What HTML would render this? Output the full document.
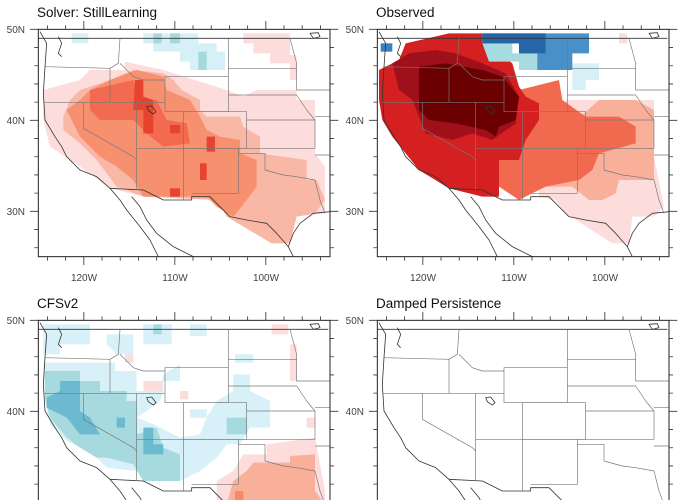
<!DOCTYPE html>
<html><head><meta charset="utf-8"><style>
html,body{margin:0;padding:0;background:#fff;width:680px;height:500px;overflow:hidden;}
svg{display:block;}
text{font-family:"Liberation Sans",sans-serif;}
.lab{font-size:10px;fill:#444;}
.ttl{font-size:13.5px;fill:#111;}
</style></head><body>
<svg width="680" height="500" viewBox="0 0 680 500" xmlns="http://www.w3.org/2000/svg">
<defs>
<clipPath id="fc"><rect x="115" y="88" width="875" height="682"/></clipPath>
<g id="map" fill="none" stroke-linejoin="round">
 <g stroke="#333" stroke-width="2.4">
  <path d="M115,115 L985,115"/>
  <path d="M120,95 L140,130 L135,200 L130,280 L135,360 L165,410 L185,440 L200,470 L240,510 L290,530 L330,565 L360,600 L380,630 L420,680 L450,720 L475,770"/>
  <path d="M395,590 L420,620 L440,660 L470,700 L520,740 L580,770"/>
  <path d="M330,565 L430,570 L490,600 L575,600 L575,590 L630,590 L660,620 L690,650 L740,660 L800,670 L830,700 L865,740 L880,770"/>
  <path d="M865,740 L880,700 L900,670 L940,640 L990,635"/>
  <path d="M175,110 L185,130 L175,160 L185,170"/>
  <path d="M930,100 L955,98 L960,110 L940,115 Z"/>
  <path d="M440,320 L455,318 L468,335 L460,342 L445,332 Z"/>
 </g>
 <g stroke="#777" stroke-width="2">
  <path d="M135,200 L330,205 L355,190 L360,115"/>
  <path d="M360,190 L400,230 L430,240 L495,240"/>
  <path d="M330,205 L330,307"/>
  <path d="M130,307 L495,307"/>
  <path d="M250,307 L250,385 L400,470 L410,480"/>
  <path d="M410,307 L410,570"/>
  <path d="M495,230 L685,230 L685,335 L495,335 Z"/>
  <path d="M550,335 L740,335 L740,445 L550,445 Z"/>
  <path d="M410,445 L945,445"/>
  <path d="M550,445 L550,600"/>
  <path d="M715,445 L715,580 L575,580"/>
  <path d="M715,460 L795,460 L795,510 L850,525 L890,530 L945,540"/>
  <path d="M685,115 L685,230"/>
  <path d="M685,205 L890,205"/>
  <path d="M685,285 L890,285 L920,330 L945,360 L945,445"/>
  <path d="M740,360 L945,360"/>
  <path d="M870,115 L890,190 L890,270 L990,270"/>
  <path d="M945,350 L990,350"/>
  <path d="M945,465 L990,465"/>
  <path d="M945,540 L960,600 L975,640"/>
 </g>
</g>
<g id="frame">
 <rect x="115" y="88" width="875" height="682" fill="none" stroke="#222" stroke-width="3"/>
 <path stroke="#333" stroke-width="2.5" fill="none" d="M251.5,88v-25M524.5,88v-25M797.5,88v-25M251.5,770v25M524.5,770v25M797.5,770v25M115,88h-25M115,361h-25M115,634h-25M990,88h25M990,361h25M990,634h25
 M142.3,88v-12M196.9,88v-12M306.1,88v-12M360.7,88v-12M415.3,88v-12M469.9,88v-12M579.1,88v-12M633.7,88v-12M688.3,88v-12M742.9,88v-12M852.1,88v-12M906.7,88v-12M961.3,88v-12
 M142.3,770v12M196.9,770v12M306.1,770v12M360.7,770v12M415.3,770v12M469.9,770v12M579.1,770v12M633.7,770v12M688.3,770v12M742.9,770v12M852.1,770v12M906.7,770v12M961.3,770v12
 M115,142.6h-12M115,197.2h-12M115,251.8h-12M115,306.4h-12M115,415.6h-12M115,470.2h-12M115,524.8h-12M115,579.4h-12M115,688.6h-12M115,743.2h-12
 M990,142.6h12M990,197.2h12M990,251.8h12M990,306.4h12M990,415.6h12M990,470.2h12M990,524.8h12M990,579.4h12M990,688.6h12M990,743.2h12"/>
</g>
</defs>

<!-- Panel 1 -->
<g transform="scale(0.33333)">
 <g clip-path="url(#fc)">
  <polygon fill="#fddcdc" points="130,270 240,240 270,210 375,210 375,185 490,210 680,270 730,290 770,270 890,270 890,300 945,300 945,460 975,500 975,640 880,650 870,730 820,730 680,640 650,600 430,590 330,565 240,500 150,440 130,360"/>
  <polygon fill="#fddcdc" points="730,100 870,100 870,165 890,165 890,240 870,240 870,190 810,190 810,160 760,160 760,130 730,130"/>
  <polygon fill="#f9b8a5" points="240,270 330,240 400,210 490,220 520,240 545,270 600,300 600,330 620,350 720,350 730,380 780,410 780,460 920,480 920,540 950,540 975,600 945,640 890,650 870,730 815,730 680,650 650,600 430,590 350,560 290,480 240,430 190,390 190,350 210,300"/>
  <polygon fill="#f6906f" points="240,300 270,270 330,240 410,210 490,230 500,270 570,300 600,350 620,390 660,410 720,420 720,460 770,480 770,560 740,600 700,650 650,620 620,590 430,590 400,540 350,500 300,470 240,410 200,330"/>
  <polygon fill="#f26a4f" points="270,270 400,240 430,300 470,300 500,360 560,370 570,430 490,440 440,400 400,360 300,360 270,330"/>
  <g fill="#e8432f"><polygon points="405,240 430,240 430,290 460,300 460,400 430,400 430,330 400,330"/><rect x="510" y="375" width="30" height="25"/><rect x="600" y="490" width="20" height="50"/><rect x="620" y="410" width="25" height="45"/><rect x="510" y="565" width="30" height="25"/></g>
  <polygon fill="#d6f0f8" points="430,100 595,100 595,130 650,130 650,155 675,155 675,210 570,210 570,185 540,185 540,155 460,155 460,130 430,130"/>
  <rect fill="#d6f0f8" x="215" y="100" width="50" height="30"/>
  <g fill="#a5d8dc"><rect x="460" y="100" width="25" height="30"/><rect x="510" y="100" width="30" height="30"/><rect x="595" y="155" width="25" height="55"/></g>
 </g>
 <use href="#map" clip-path="url(#fc)"/>
 <use href="#frame"/>
</g>

<!-- Panel 2 -->
<g transform="translate(339,0) scale(0.33333)">
 <g clip-path="url(#fc)">
  <polygon fill="#fddcdc" points="680,300 945,300 945,470 975,620 945,650 880,650 870,730 820,730 680,640 650,600 600,590 600,470"/>
  <polygon fill="#f9b09b" points="780,300 890,300 945,330 945,540 840,540 830,580 790,600 750,600 700,560 620,560 560,530 600,440 690,380"/>
  <polygon fill="#f16a4f" points="540,270 660,240 670,300 740,350 840,350 890,380 890,430 780,460 760,510 720,540 620,560 560,590 540,600 480,560 480,460 530,400 540,300"/>
  <polygon fill="#d42020" points="120,210 180,180 200,130 330,100 430,100 430,130 480,160 520,190 540,260 560,290 600,310 600,360 560,420 540,480 480,480 480,590 430,590 330,565 240,510 200,460 160,410 130,360 120,300"/>
  <polygon fill="#a0101a" points="160,190 210,160 290,150 350,160 430,190 500,220 540,290 530,370 460,420 400,400 340,420 260,400 240,350 220,300 180,270"/>
  <polygon fill="#6b0000" points="240,200 320,190 430,210 490,230 540,290 530,360 480,380 470,410 440,390 350,370 270,360 240,330 240,260"/>
  <polygon fill="#d6f0f8" points="680,190 780,190 780,240 740,240 740,270 700,270 700,210"/>
  <polygon fill="#a8dbe0" points="430,130 520,130 520,160 600,160 600,210 540,210 540,185 450,185"/>
  <polygon fill="#4a90c8" points="430,100 750,100 750,160 700,160 700,210 595,210 595,160 540,160 540,130 430,130"/>
  <polygon fill="#2566a8" points="430,100 620,100 620,160 540,160 540,130 430,130"/>
  <rect fill="#3a7fbf" x="125" y="130" width="35" height="25"/>
  <rect fill="#fddcdc" x="840" y="100" width="25" height="30"/>
 </g>
 <use href="#map" clip-path="url(#fc)"/>
 <use href="#frame"/>
</g>

<!-- Panel 3 -->
<g transform="translate(0,291) scale(0.33333)">
 <g clip-path="url(#fc)">
  <polygon fill="#d8f1f9" points="130,215 345,215 345,240 410,240 410,300 480,300 490,250 540,220 540,270 490,270 490,300 480,330 440,360 410,380 460,400 540,440 600,430 620,380 650,330 700,300 700,250 750,250 750,300 810,330 810,410 750,410 720,460 680,460 650,500 600,540 540,570 430,570 410,540 320,530 290,500 240,470 200,450 150,400 135,330"/>
  <g fill="#d8f1f9"><polygon points="130,100 270,100 270,160 180,160 180,190 130,190"/><polygon points="320,130 400,130 400,190 350,190 320,160"/><rect x="430" y="100" width="85" height="60"/><rect x="570" y="100" width="50" height="35"/><rect x="705" y="190" width="55" height="25"/><rect x="570" y="355" width="50" height="25"/></g>
  <polygon fill="#a6dadf" points="135,240 240,240 240,270 300,270 300,300 380,300 380,330 410,330 410,430 470,410 490,470 540,490 540,570 430,570 400,520 320,500 290,500 240,470 200,440 150,380 135,320"/>
  <g fill="#a6dadf"><rect x="680" y="380" width="60" height="50"/><rect x="460" y="100" width="25" height="30"/></g>
  <g fill="#6cbad0"><polygon points="180,270 240,270 240,360 270,380 300,430 240,430 200,380 140,350 140,320 180,300"/><polygon points="430,410 460,410 460,460 490,460 490,490 430,490"/><rect x="350" y="380" width="25" height="30"/></g>
  <g fill="#fddcdc"><rect x="815" y="100" width="50" height="30"/><rect x="870" y="160" width="20" height="110"/><rect x="375" y="190" width="25" height="25"/><rect x="430" y="270" width="55" height="30"/><rect x="540" y="300" width="25" height="25"/><rect x="920" y="380" width="25" height="30"/>
   <polygon points="650,570 700,540 730,490 800,490 800,460 945,440 975,600 975,640 650,640"/></g>
  <polygon fill="#f8b09a" points="680,640 700,570 740,540 760,515 870,515 870,495 945,490 945,600 975,640"/>
  <rect fill="#f58a68" x="705" y="600" width="25" height="40"/>
 </g>
 <use href="#map" clip-path="url(#fc)"/>
 <use href="#frame"/>
</g>

<!-- Panel 4 -->
<g transform="translate(339,291) scale(0.33333)">
 <use href="#map" clip-path="url(#fc)"/>
 <use href="#frame"/>
</g>

<!-- Text -->
<text class="ttl" x="37" y="17">Solver: StillLearning</text>
<text class="ttl" x="376" y="17">Observed</text>
<text class="ttl" x="37" y="308">CFSv2</text>
<text class="ttl" x="376" y="308">Damped Persistence</text>
<g class="lab" text-anchor="end">
 <text x="25" y="33">50N</text><text x="25" y="124">40N</text><text x="25" y="215">30N</text>
 <text x="364" y="33">50N</text><text x="364" y="124">40N</text><text x="364" y="215">30N</text>
 <text x="25" y="324">50N</text><text x="25" y="415">40N</text>
 <text x="364" y="324">50N</text><text x="364" y="415">40N</text>
</g>
<g class="lab" text-anchor="middle">
 <text x="84" y="281">120W</text><text x="175" y="281">110W</text><text x="266" y="281">100W</text>
 <text x="423" y="281">120W</text><text x="514" y="281">110W</text><text x="605" y="281">100W</text>
</g>
</svg>
</body></html>
